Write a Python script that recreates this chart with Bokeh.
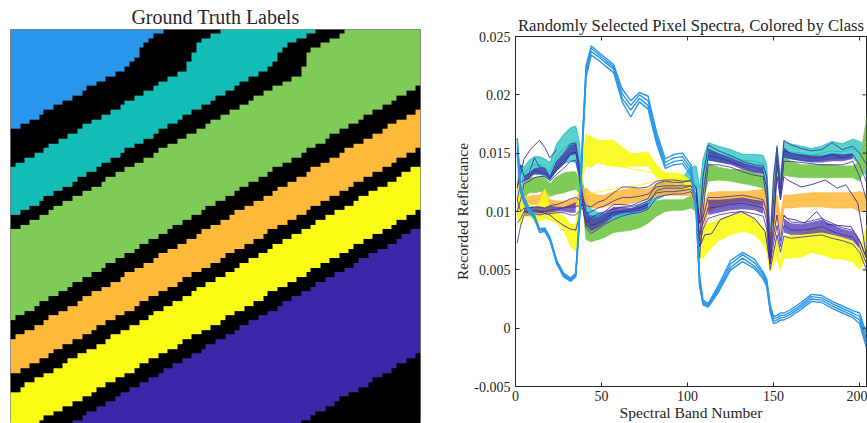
import math
import numpy as np
from bokeh.embed import file_html
from bokeh.models import FixedTicker, LinearColorMapper, Range1d
from bokeh.plotting import figure
from bokeh.resources import INLINE

# ---- left panel: class boundaries, one (row, number of columns) run per step
COLS, ROWS = 86, 83
B1 = [(21,2),(20,2),(19,2),(18,1),(17,2),(16,2),(15,2),(14,2),(13,1),(12,2),(11,2),(10,2),(9,2),(8,1),(7,1),(6,1),(4,1),(3,1),(2,1),(1,2),(0,54)]
B2 = [(29,1),(28,2),(27,2),(26,2),(25,1),(24,2),(23,2),(22,2),(21,1),(20,2),(19,2),(18,2),(17,2),(16,1),(15,2),(14,2),(13,2),(12,1),(11,2),(10,2),(9,2),(7,1),(5,1),(3,1),(2,2),(1,2),(0,42)]
B3 = [(39,2),(38,2),(37,2),(36,1),(35,2),(34,2),(33,2),(32,1),(31,2),(30,2),(29,1),(28,2),(27,2),(26,1),(25,2),(24,2),(23,2),(22,1),(21,2),(20,2),(19,1),(18,2),(17,2),(16,2),(15,1),(14,2),(13,2),(12,1),(11,2),(10,2),(9,2),(8,1),(7,1),(5,1),(4,1),(3,2),(2,2),(1,2),(0,22)]
B4 = [(42,2),(41,2),(40,2),(39,2),(38,1),(37,2),(36,2),(35,2),(34,2),(33,2),(32,1),(31,2),(30,2),(29,2),(28,2),(27,2),(26,1),(25,2),(24,2),(23,2),(22,2),(21,2),(20,1),(19,2),(18,2),(17,2),(16,2),(15,1),(14,2),(13,2),(12,2),(11,2),(10,2),(8,1),(5,1),(4,2),(3,2),(2,2),(1,1),(0,16)]
B5 = [(61,1),(60,2),(59,2),(58,1),(57,2),(56,2),(55,2),(54,1),(53,2),(52,2),(51,2),(50,1),(49,2),(48,2),(47,2),(46,1),(45,2),(44,2),(43,2),(42,1),(41,2),(40,2),(39,2),(38,1),(37,2),(36,2),(35,2),(34,1),(33,2),(32,2),(31,2),(30,1),(29,2),(28,2),(27,2),(26,1),(25,2),(24,2),(23,1),(22,2),(21,2),(20,2),(19,1),(18,2),(17,2),(16,2),(15,1),(14,2),(13,2),(12,1)]
B6 = [(65,1),(64,2),(63,2),(62,2),(61,1),(60,2),(59,2),(58,2),(57,1),(56,2),(55,2),(54,2),(53,2),(52,1),(51,2),(50,2),(49,2),(48,1),(47,2),(46,2),(45,2),(44,2),(43,1),(42,2),(41,2),(40,2),(39,1),(38,2),(37,2),(36,2),(35,2),(34,1),(33,2),(32,2),(31,2),(30,1),(29,2),(28,2),(27,2),(26,1),(25,2),(24,2),(23,2),(22,2),(21,1),(20,2),(19,2),(18,2),(17,1)]
B7 = [(72,2),(71,2),(70,2),(69,2),(68,1),(67,2),(66,2),(65,2),(64,2),(63,1),(62,2),(61,2),(60,2),(59,2),(58,1),(57,2),(56,2),(55,2),(54,2),(53,1),(52,2),(51,2),(50,2),(49,2),(48,1),(47,2),(46,2),(45,2),(44,2),(43,1),(42,2),(41,2),(40,2),(39,2),(38,1),(37,2),(36,2),(35,2),(34,2),(33,1),(32,2),(31,2),(30,2),(29,2),(28,1),(27,2),(26,2),(25,1)]
B8 = [(76,2),(75,1),(74,2),(73,2),(72,2),(71,2),(70,1),(69,2),(68,2),(67,2),(66,2),(65,1),(64,2),(63,2),(62,2),(61,2),(60,1),(59,2),(58,2),(57,2),(56,2),(55,1),(54,2),(53,2),(52,2),(51,2),(50,1),(49,2),(48,2),(47,2),(46,1),(45,2),(44,2),(43,2),(42,2),(41,1),(40,2),(39,2),(38,2),(37,2),(36,1),(35,2),(34,2),(33,2),(32,2),(31,1),(30,2),(29,2)]
B9 = [(83,6),(82,1),(81,2),(80,2),(79,2),(78,2),(77,2),(76,1),(75,2),(74,2),(73,2),(72,2),(71,1),(70,2),(69,2),(68,2),(67,2),(66,1),(65,2),(64,2),(63,2),(62,2),(61,1),(60,2),(59,2),(58,2),(57,2),(56,1),(55,2),(54,2),(53,2),(52,2),(51,1),(50,2),(49,2),(48,2),(47,2),(46,1),(45,2),(44,2),(43,2),(42,2),(41,1),(40,2),(39,2),(38,1)]
B10 = [(83,13),(82,2),(81,1),(80,2),(79,2),(78,2),(77,1),(76,2),(75,2),(74,2),(73,2),(72,1),(71,2),(70,2),(69,2),(68,2),(67,1),(66,2),(65,2),(64,2),(63,1),(62,2),(61,2),(60,2),(59,2),(58,1),(57,2),(56,2),(55,2),(54,1),(53,2),(52,2),(51,2),(50,2),(49,1),(48,2),(47,2),(46,2),(45,2),(44,1),(43,2),(42,2)]
B11 = [(83,61),(82,2),(81,1),(80,2),(79,2),(78,1),(77,2),(76,2),(75,2),(74,1),(73,2),(72,2),(71,1),(70,2),(69,2),(68,1)]
BOUNDARIES = [B1, B2, B3, B4, B5, B6, B7, B8, B9, B10, B11]
REGION_CLASS = [1, 0, 2, 0, 3, 0, 4, 0, 5, 0, 6, 0]

BLACK, BLUE, TEAL, GREEN, ORANGE, YELLOW, PURPLE = "#000000", "#2A96EB", "#13BEB7", "#7FCB58", "#FDB93A", "#F9FB15", "#3E26A8"
CLASS_COLORS = [BLACK, BLUE, TEAL, GREEN, ORANGE, YELLOW, PURPLE]

# ---- right panel: spectra, reflectance in thousandths at the listed bands
BANDS = [1,3,5,8,11,14,17,20,24,28,
         32,35,37,39,41,44,48,52,57,62,
         67,72,77,82,87,92,97,102,105,107,
         109,112,118,125,132,139,144,146,148,150,
         152,154,156,160,166,172,178,184,190,196,
         200,204]

TEAL_HI = [13.5,14.0,13.8,14.4,14.7,14.7,14.5,14.2,15.8,16.6,
           17.2,17.3,16.0,12.5,11.0,10.2,9.9,9.8,10.0,10.1,
           10.2,10.6,10.9,12.2,12.7,12.8,12.9,13.8,13.9,12.0,
           14.5,15.9,15.6,15.3,14.9,14.9,14.8,14.0,8.0,13.0,
           15.7,13.0,16.0,15.8,15.6,15.4,15.6,16.0,15.8,16.2,
           16.0,15.5]
TEAL_MID = [12.5,12.2,13.2,13.8,14.0,14.0,13.8,13.4,14.7,15.4,
            15.8,15.8,14.4,11.6,10.2,8.9,8.8,8.9,9.5,9.7,
            9.8,10.1,10.3,11.6,12.0,12.2,12.3,12.8,12.3,9.5,
            13.2,15.1,14.9,14.7,14.4,14.3,14.1,12.7,6.5,11.0,
            15.0,12.4,15.2,15.1,15.0,14.8,15.0,15.2,15.1,15.4,
            15.0,14.2]
TEAL_LO = [11.5,10.5,12.7,13.1,13.2,13.2,13.0,12.7,13.5,14.1,
           14.3,14.2,13.0,11.0,9.5,7.6,7.6,7.9,8.9,9.3,
           9.5,9.7,9.8,11.0,11.4,11.6,11.7,11.9,11.0,7.0,
           12.0,14.4,14.3,14.1,13.9,13.7,13.5,11.5,5.0,9.0,
           14.3,11.8,14.5,14.5,14.4,14.3,14.4,14.5,14.5,14.6,
           14.0,13.0]

GREEN_HI = [12.5,12.0,12.4,12.9,12.9,13.0,12.9,12.4,13.0,13.3,
            13.4,13.4,12.8,11.5,9.3,9.2,9.1,9.1,9.3,9.5,
            9.6,9.8,10.1,10.9,11.0,11.0,11.0,11.3,11.4,9.5,
            12.5,14.1,13.8,13.6,13.6,13.3,13.1,12.0,7.0,12.0,
            14.9,12.6,14.6,14.3,14.0,14.0,14.0,14.0,13.9,13.9,
            14.3,18.0]
GREEN_MID = [11.6,11.0,11.8,12.2,12.3,12.3,12.3,11.9,12.2,12.5,
             12.6,12.7,12.2,11.1,8.4,8.3,8.3,8.4,8.8,8.9,
             9.0,9.2,9.5,10.2,10.5,10.5,10.6,10.8,10.7,8.5,
             11.8,13.3,13.2,13.1,13.0,12.7,12.5,11.2,6.2,10.5,
             14.4,12.4,13.8,13.6,13.5,13.4,13.5,13.5,13.4,13.4,
             13.4,16.0]
GREEN_LO = [10.5,10.0,11.2,11.6,11.6,11.7,11.7,11.3,11.5,11.6,
            11.8,11.9,11.6,10.8,7.6,7.4,7.6,7.8,8.2,8.3,
            8.4,8.6,9.0,9.6,10.0,10.1,10.1,10.3,10.0,7.5,
            11.0,12.6,12.7,12.6,12.4,12.2,12.0,10.5,5.5,9.0,
            14.0,12.2,13.1,13.0,12.9,12.9,12.9,12.9,12.9,12.9,
            12.6,14.0]

ORANGE_HI = [14.0,12.5,11.3,11.3,11.4,11.4,11.9,11.0,10.9,10.9,
             11.0,11.1,11.6,12.0,12.0,11.6,11.4,11.4,11.7,11.8,
             12.0,11.9,11.9,12.4,12.6,12.6,12.6,12.6,12.0,9.5,
             10.5,11.6,11.7,11.7,11.7,11.8,11.9,11.0,8.0,9.5,
             11.4,9.5,11.4,11.4,11.5,11.6,11.6,11.6,11.6,11.6,
             11.7,11.5]
ORANGE_MID = [11.5,11.0,10.9,10.9,11.0,11.0,11.3,10.7,10.6,10.6,
              10.7,10.7,11.0,11.5,11.3,10.9,10.8,10.9,11.1,11.2,
              11.3,11.4,11.4,11.8,12.0,12.0,12.0,11.9,11.2,8.5,
              9.5,10.8,11.1,11.2,11.3,11.2,11.2,10.2,7.2,8.5,
              10.5,8.8,10.9,10.9,11.0,11.0,11.0,11.0,10.9,11.0,
              10.9,10.8]
ORANGE_LO = [9.5,9.8,10.6,10.6,10.6,10.6,10.7,10.4,10.3,10.3,
             10.4,10.4,10.5,11.0,10.6,10.3,10.3,10.4,10.6,10.6,
             10.7,10.9,11.0,11.3,11.4,11.4,11.4,11.3,10.5,7.5,
             8.5,9.9,10.5,10.7,10.9,10.7,10.6,9.5,6.5,7.5,
             9.7,8.0,10.3,10.3,10.4,10.4,10.4,10.3,10.3,10.3,
             10.0,10.0]

YELLOW_HI = [14.3,13.0,10.8,10.7,10.3,10.8,11.9,10.4,9.9,9.6,
             8.9,8.9,11.0,14.5,16.6,16.4,16.1,16.1,16.1,15.5,
             15.0,15.0,15.1,14.0,13.3,13.3,13.2,12.6,11.7,8.5,
             8.9,8.9,9.3,9.7,9.9,9.4,8.7,8.0,5.2,6.5,
             8.0,5.5,7.7,8.0,8.0,8.6,8.4,8.0,7.8,7.4,
             6.6,8.8]
YELLOW_MID = [12.0,10.5,10.1,10.1,9.7,10.0,10.6,9.8,9.4,9.0,
              7.9,7.7,9.7,13.8,15.2,15.1,15.1,15.0,14.9,14.6,
              14.4,14.4,14.5,13.4,12.9,12.9,12.8,12.2,11.1,7.3,
              7.4,7.7,8.4,8.9,9.1,8.7,7.9,7.2,5.0,6.0,
              7.0,5.2,6.8,7.0,7.0,7.5,7.3,7.0,6.8,6.5,
              5.8,7.2]
YELLOW_LO = [10.0,8.6,9.6,9.6,9.1,9.2,9.4,9.3,9.0,8.4,
             7.0,6.6,8.5,13.0,13.9,13.8,14.2,14.0,13.9,13.8,
             13.9,13.9,13.9,12.9,12.6,12.6,12.5,11.9,10.6,6.0,
             6.0,6.6,7.5,8.0,8.3,8.0,7.2,6.5,4.8,5.5,
             6.0,5.0,6.0,6.0,6.1,6.5,6.3,6.0,5.9,5.7,
             5.0,6.0]
YELLOW_X1_BANDS = [44,50,69,81,90,100,105]
YELLOW_X1 = [14.6,14.3,13.6,13.3,12.9,12.5,11.5]
YELLOW_X2_BANDS = [41,49,60,70,82,90,105]
YELLOW_X2 = [11.5,11.7,12.0,12.2,12.6,12.6,11.5]

PURPLE_A_HI = [12.0,14.0,13.0,13.3,14.6,13.8,13.7,13.0,14.3,15.0,
               15.8,15.9,14.0,11.5,10.0,9.6,9.6,10.0,10.6,10.6,
               10.5,10.8,11.1,12.4,12.6,12.5,12.5,12.7,12.0,9.0,
               13.0,15.7,15.2,14.8,14.3,14.0,13.9,13.0,7.0,13.0,
               15.5,12.0,16.1,15.7,15.4,15.2,15.3,15.9,15.3,15.6,
               15.0,14.0]
PURPLE_A_MID = [11.0,12.5,12.7,12.9,13.6,13.4,13.3,12.8,13.7,14.3,
                15.0,15.1,13.5,11.0,9.3,8.8,9.0,9.4,9.9,10.0,
                10.1,10.3,10.6,11.8,12.0,12.0,12.0,12.2,11.2,7.5,
                11.5,14.8,14.6,14.3,13.8,13.5,13.4,12.0,6.2,11.0,
                14.8,11.5,15.2,15.0,14.8,14.6,14.6,14.9,14.6,14.9,
                14.0,12.5]
PURPLE_A_LO = [10.0,11.0,12.4,12.6,12.9,13.0,13.0,12.6,13.2,13.7,
               14.3,14.4,13.0,10.5,8.6,8.1,8.5,8.9,9.3,9.6,
               9.8,9.9,10.2,11.2,11.4,11.5,11.5,11.7,10.5,6.0,
               10.0,14.0,14.0,13.8,13.4,13.1,13.0,11.0,5.5,9.0,
               14.0,11.0,14.3,14.3,14.2,14.1,14.0,14.0,14.0,14.3,
               13.0,11.0]
PURPLE_B_HI = [11.0,10.0,10.3,10.3,10.4,10.4,10.3,10.5,10.6,10.8,
               11.1,11.2,11.0,11.0,10.5,10.4,10.8,11.0,11.6,12.1,
               12.1,12.0,12.1,12.6,12.7,12.7,12.6,12.6,12.0,9.0,
               9.5,11.2,11.2,11.3,11.4,11.2,11.0,10.0,6.0,8.0,
               9.7,7.5,9.7,9.1,9.0,9.2,9.4,9.0,8.6,8.4,
               7.5,6.0]
PURPLE_B_MID = [9.0,9.4,10.0,10.0,10.1,10.0,10.0,10.1,10.2,10.3,
                10.4,10.4,10.5,10.6,9.8,10.0,10.3,10.5,10.9,11.2,
                11.2,11.3,11.5,12.1,12.2,12.2,12.2,12.2,11.5,8.0,
                9.0,10.3,10.4,10.6,10.7,10.5,10.3,9.2,5.5,7.2,
                8.8,7.0,8.8,8.4,8.4,8.5,8.7,8.3,8.0,7.8,
                7.0,5.5]
PURPLE_B_LO = [7.3,8.8,9.7,9.7,9.8,9.7,9.8,9.8,9.9,9.9,
               9.7,9.7,10.0,10.3,9.0,9.5,9.8,10.0,10.2,10.4,
               10.4,10.6,10.9,11.6,11.7,11.7,11.8,11.9,11.0,7.0,
               8.5,9.4,9.7,9.9,10.0,9.8,9.6,8.5,5.0,6.5,
               8.0,6.5,7.9,7.7,7.8,7.9,8.0,7.7,7.5,7.2,
               6.5,5.0]
PURPLE_X1_BANDS = [1,5,9,14,17,20,24]
PURPLE_X1 = [12.0,14.5,15.4,16.1,15.5,14.6,15.3]
PURPLE_X2_BANDS = [14,20,24,28,32,35,37,39]
PURPLE_X2 = [10.0,9.7,9.2,8.8,8.5,8.4,9.5,11.0]
PURPLE_X3_BANDS = [107,110,114,119,131,139,145,148]
PURPLE_X3 = [7.0,8.0,8.1,9.3,10.0,9.4,8.3,5.5]
PURPLE_X4_BANDS = [150,152,154,156,158,166,172,180,187,192,199,202,204]
PURPLE_X4 = [9.0,13.0,11.0,13.0,12.7,12.1,12.3,12.7,12.0,12.3,10.7,8.0,6.0]
PURPLE_X5_BANDS = [156,158,162,168,175,181,195,200,204]
PURPLE_X5 = [9.6,9.4,9.3,9.0,10.0,8.9,8.7,7.5,6.0]

# stretches where the purple spectra crowd together: (bands, upper edge, lower edge)
CORE1_BANDS = [5,8,11,14,17,20,24,28,32,35,37]
CORE1_HI = [13.0,13.3,13.7,13.8,13.7,13.0,14.3,14.9,15.7,15.8,14.0]
CORE1_LO = [12.5,12.8,13.2,13.2,13.1,12.7,13.5,14.0,14.8,14.9,13.2]
CORE2_BANDS = [5,8,11,14,17,20,24,28,32,35]
CORE2_HI = [10.3,10.4,10.4,10.4,10.3,10.5,10.4,10.4,10.6,10.8]
CORE2_LO = [9.8,9.8,9.9,9.8,9.9,9.9,10.0,10.0,9.9,9.9]
CORE3_BANDS = [41,44,48,52,57,62,67,72,77]
CORE3_HI = [9.9,9.5,9.5,9.9,10.4,10.4,10.3,10.5,10.8]
CORE3_LO = [8.8,8.3,8.6,9.0,9.6,9.8,9.9,10.0,10.3]
CORE4_BANDS = [112,118,125,132,139,144]
CORE4_HI = [15.4,15.0,14.6,14.2,13.9,13.8]
CORE4_LO = [14.4,14.2,14.0,13.6,13.3,13.2]
CORE5_BANDS = [112,118,125,132,139,144]
CORE5_HI = [11.0,11.0,11.1,11.2,11.0,10.9]
CORE5_LO = [9.7,9.9,10.1,10.2,10.1,9.8]
CORE6_BANDS = [156,160,166,172,178,184,190,196,200]
CORE6_HI = [9.4,9.0,8.9,9.1,9.3,8.9,8.5,8.3,7.5]
CORE6_LO = [8.2,8.0,8.0,8.1,8.2,8.0,7.8,7.5,6.8]
CORE7_BANDS = [156,160,166,172,178,184,190,196]
CORE7_HI = [15.5,15.0,14.9,14.8,14.8,15.0,14.9,15.0]
CORE7_LO = [14.6,14.5,14.3,14.2,14.2,14.3,14.3,14.5]

BLUE_A = [16.3,12.3,11.2,10.3,9.7,8.5,8.6,7.8,5.8,4.7,
          4.3,4.7,9.3,16.5,22.5,24.2,23.7,23.2,22.6,20.5,
          19.5,20.2,19.9,16.8,14.5,14.9,15.0,14.0,10.5,4.5,
          2.4,2.1,3.7,5.8,6.5,5.9,4.8,4.2,2.0,1.0,
          1.1,1.3,1.3,1.6,2.2,2.9,2.8,2.3,1.9,1.5,
          1.3,-0.5]
BLUE_B = [16.0,12.0,11.0,10.1,9.6,8.4,8.5,7.7,5.7,4.6,
          4.2,4.6,9.0,16.2,22.2,24.0,23.5,23.0,22.4,20.1,
          19.1,20.0,19.5,16.4,14.2,14.6,14.7,13.7,10.2,4.0,
          2.2,2.0,3.5,5.5,6.3,5.6,4.6,4.0,1.8,0.8,
          0.9,1.1,1.1,1.4,2.0,2.7,2.6,2.1,1.7,1.3,
          1.0,-1.0]
BLUE_C = [15.5,11.8,10.8,10.0,9.5,8.3,8.4,7.6,5.6,4.5,
          4.1,4.5,8.8,15.8,21.8,23.7,23.3,22.8,22.2,19.7,
          18.7,19.7,19.1,16.1,13.9,14.3,14.4,13.4,10.0,3.8,
          2.1,1.9,3.3,5.2,6.0,5.3,4.4,3.8,1.6,0.6,
          0.7,0.9,0.9,1.2,1.8,2.5,2.4,1.9,1.5,1.1,
          0.7,-1.3]
BLUE_D = [15.0,11.6,10.7,9.9,9.4,8.2,8.3,7.5,5.5,4.4,
          4.0,4.4,8.6,15.5,21.5,23.4,23.0,22.5,21.9,19.4,
          18.1,19.4,18.8,15.8,13.7,14.0,14.1,13.1,9.8,3.6,
          2.0,1.8,3.1,5.0,5.7,5.1,4.2,3.6,1.4,0.4,
          0.5,0.7,0.7,1.0,1.6,2.3,2.2,1.7,1.3,0.9,
          0.4,-1.7]

X_TICKS = [0, 50, 100, 150, 200]
Y_TICKS = [-5, 0, 5, 10, 15, 20, 25]
Y_TICK_LABELS = ["-0.005", "0", "0.005", "0.01", "0.015", "0.02", "0.025"]
X_MAX, Y_MIN, Y_MAX = 204, -5, 25

SERIF = "Liberation Serif"
INK = "#262626"


def expand(runs):
    return np.repeat([r for r, _ in runs], [n for _, n in runs])


edges = np.array([expand(b) for b in BOUNDARIES])
labels = np.zeros((ROWS, COLS), dtype=np.uint8)
for c in range(COLS):
    for r in range(ROWS):
        labels[r, c] = REGION_CLASS[int(np.searchsorted(edges[:, c], r, side="right"))]

left = figure(width=430, height=423, output_backend="svg", toolbar_location=None,
              x_range=Range1d(0, COLS), y_range=Range1d(0.4, ROWS),
              min_border_left=10, min_border_right=10, min_border_top=29, min_border_bottom=0,
              title="Ground Truth Labels")
left.axis.visible = False
left.grid.visible = False
left.outline_line_color = "#808080"
left.title.align = "center"
left.title.text_font = SERIF
left.title.text_font_size = "20px"
left.title.text_font_style = "normal"
left.title.text_color = INK
left.title.standoff = 3
left.styles = {"position": "absolute", "left": "0px", "top": "0px"}
mapper = LinearColorMapper(palette=CLASS_COLORS, low=-0.5, high=6.5)
left.image(image=[labels[::-1]], x=0, y=0, dw=COLS, dh=ROWS, color_mapper=mapper)

right = figure(width=422, height=423, output_backend="svg", toolbar_location=None,
               x_range=Range1d(0, X_MAX), y_range=Range1d(Y_MIN, Y_MAX),
               min_border_left=70, min_border_right=1, min_border_top=36, min_border_bottom=36,
               title="Randomly Selected Pixel Spectra, Colored by Class",
               x_axis_label="Spectral Band Number", y_axis_label="Recorded Reflectance")
right.styles = {"position": "absolute", "left": "445px", "top": "0px"}
right.grid.visible = False
right.outline_line_color = INK
right.title.align = "center"
right.title.text_font = SERIF
right.title.text_font_size = "16.7px"
right.title.text_font_style = "normal"
right.title.text_color = INK
right.title.standoff = 3

for a in right.axis:
    a.axis_line_color = INK
    a.major_tick_line_color = INK
    a.major_tick_in = 4
    a.major_tick_out = 0
    a.minor_tick_line_color = None
    a.major_label_text_font = SERIF
    a.major_label_text_color = INK
    a.major_label_text_font_size = "14px"
    a.axis_label_text_font = SERIF
    a.axis_label_text_font_style = "normal"
    a.axis_label_text_color = INK
    a.axis_label_text_font_size = "15.6px"
right.xaxis.ticker = FixedTicker(ticks=X_TICKS)
right.yaxis.ticker = FixedTicker(ticks=Y_TICKS)
right.below[0].major_label_standoff = 4
right.below[0].axis_label_standoff = 0
right.left[0].major_label_standoff = 5
right.left[0].axis_label_standoff = 0
right.left[0].major_label_overrides = dict(zip(Y_TICKS, Y_TICK_LABELS))


def bundle(color, hi, mid, lo, alpha):
    if alpha:
        right.varea(x=BANDS, y1=lo, y2=hi, fill_color=color, fill_alpha=alpha)
    for s in (hi, mid, lo):
        right.line(BANDS, s, line_color=color, line_width=0.8)


bundle(TEAL, TEAL_HI, TEAL_MID, TEAL_LO, 0.7)
bundle(GREEN, GREEN_HI, GREEN_MID, GREEN_LO, 1.0)
bundle(ORANGE, ORANGE_HI, ORANGE_MID, ORANGE_LO, 0.85)
bundle(YELLOW, YELLOW_HI, YELLOW_MID, YELLOW_LO, 0.9)
for b, s in ((YELLOW_X1_BANDS, YELLOW_X1), (YELLOW_X2_BANDS, YELLOW_X2)):
    right.line(b, s, line_color=YELLOW, line_width=0.9)
bundle(PURPLE, PURPLE_A_HI, PURPLE_A_MID, PURPLE_A_LO, 0)
bundle(PURPLE, PURPLE_B_HI, PURPLE_B_MID, PURPLE_B_LO, 0)
for b, s in ((PURPLE_X1_BANDS, PURPLE_X1), (PURPLE_X2_BANDS, PURPLE_X2), (PURPLE_X3_BANDS, PURPLE_X3),
             (PURPLE_X4_BANDS, PURPLE_X4), (PURPLE_X5_BANDS, PURPLE_X5)):
    right.line(b, s, line_color=PURPLE, line_width=0.9)
for b, hi, lo in ((CORE1_BANDS, CORE1_HI, CORE1_LO), (CORE2_BANDS, CORE2_HI, CORE2_LO),
                  (CORE3_BANDS, CORE3_HI, CORE3_LO), (CORE4_BANDS, CORE4_HI, CORE4_LO),
                  (CORE5_BANDS, CORE5_HI, CORE5_LO), (CORE6_BANDS, CORE6_HI, CORE6_LO),
                  (CORE7_BANDS, CORE7_HI, CORE7_LO)):
    right.varea(x=b, y1=lo, y2=hi, fill_color=PURPLE, fill_alpha=0.7)
for s in (BLUE_A, BLUE_B, BLUE_C, BLUE_D):
    right.line(BANDS, s, line_color=BLUE, line_width=1.4)

# inward tick marks on the top and right sides of the box (half of each mark is clipped by the frame)
right.scatter(x=X_TICKS, y=[Y_MAX] * len(X_TICKS), marker="dash", size=8, angle=math.pi / 2,
              line_color=INK, line_width=1)
right.scatter(x=[X_MAX] * len(Y_TICKS), y=Y_TICKS, marker="dash", size=8, line_color=INK, line_width=1)

open("out.html", "w").write(file_html([left, right], INLINE))
